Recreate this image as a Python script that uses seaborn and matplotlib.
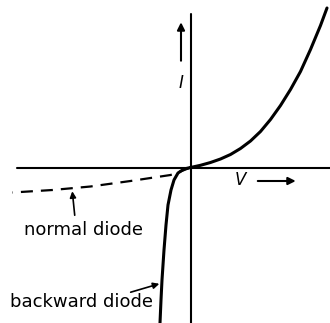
import matplotlib
matplotlib.use("Agg")
import matplotlib.pyplot as plt
import seaborn as sns
import pandas as pd

# Forward branch shared by both diodes (V > 0)
forward_v = [0, 10, 20, 30, 40, 50, 60, 70, 80, 90, 100, 110, 120, 130, 136.5]
forward_i = [0, 2.2, 5, 8.5, 13, 19, 26.5, 36, 48, 62, 78, 96, 118, 142, 159.5]

# Reverse branch of the backward diode (steep current rise)
backward_v = [0, -6.5, -12.5, -16.5, -19.5, -22.5, -24.5, -26.5, -28.5, -29.5, -30.5]
backward_i = [0, -1.5, -5.5, -12.5, -22.5, -37.5, -57.5, -82.5, -112.5, -132.5, -155.5]

# Reverse branch of a normal diode (saturating leakage)
normal_v = [0, -10, -20, -60, -100, -138, -178]
normal_i = [0, -4, -7.5, -13.5, -19, -22.5, -25]

sns.set_theme(style="white")
plt.rcParams["font.family"] = ["DejaVu Sans"]

fig = plt.figure(figsize=(3.3, 3.23), dpi=100)
ax = fig.add_axes([0, 0, 1, 1])
ax.set_xlim(-190.5, 139.5)
ax.set_ylim(-155.5, 167.5)
ax.axis("off")

# Coordinate axes
ax.axhline(0, xmin=17 / 330, xmax=1, color="black", lw=1.5)
ax.axvline(0, ymin=0, ymax=(323 - 14) / 323, color="black", lw=1.5)

fwd = pd.DataFrame({"V": forward_v, "I": forward_i})
bwd = pd.DataFrame({"V": backward_v, "I": backward_i})
nrm = pd.DataFrame({"V": normal_v, "I": normal_i})

sns.lineplot(data=fwd, x="V", y="I", sort=False, color="black", lw=2.2, ax=ax)
sns.lineplot(data=bwd, x="V", y="I", sort=False, color="black", lw=2.2, ax=ax)
sns.lineplot(data=nrm, x="V", y="I", sort=False, color="black", lw=1.6,
             linestyle=(0, (5.4, 3.6)), ax=ax)

# Axis labels with direction arrows
ax.text(-9.5, 84.5, "I", style="italic", fontsize=12, color="black",
        ha="center", va="center")
ax.annotate("", xy=(-9.5, 148), xytext=(-9.5, 104),
            arrowprops=dict(arrowstyle="-|>", color="black", lw=1.5,
                            mutation_scale=11))
ax.text(49.5, -12.5, "V", style="italic", fontsize=12, color="black",
        ha="center", va="center")
ax.annotate("", xy=(108, -13.5), xytext=(64.5, -13.5),
            arrowprops=dict(arrowstyle="-|>", color="black", lw=1.5,
                            mutation_scale=11))

# Curve labels with leader arrows
ax.text(-106.5, -62.5, "normal diode", fontsize=13, color="black",
        ha="center", va="center")
ax.annotate("", xy=(-118.5, -21), xytext=(-115.5, -50.5),
            arrowprops=dict(arrowstyle="-|>", color="black", lw=1.2,
                            mutation_scale=9))
ax.text(-109.5, -134.5, "backward diode", fontsize=13, color="black",
        ha="center", va="center")
ax.annotate("", xy=(-28.5, -115.5), xytext=(-62.5, -125.5),
            arrowprops=dict(arrowstyle="-|>", color="black", lw=1.2,
                            mutation_scale=9))

fig.savefig("out.png", dpi=100, facecolor="white")
